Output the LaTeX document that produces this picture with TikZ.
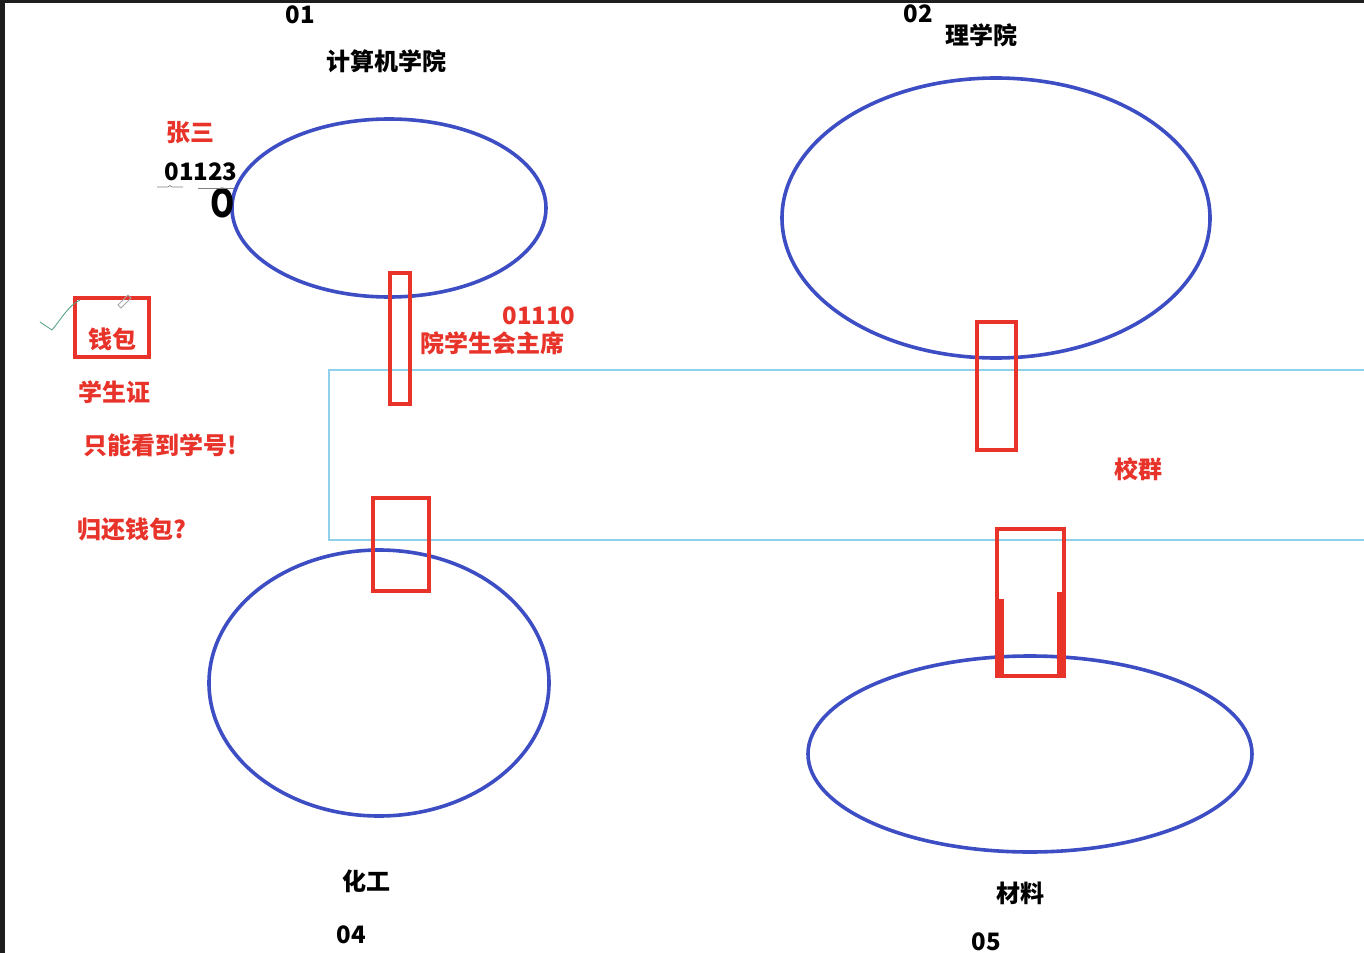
\documentclass[tikz,border=0pt]{standalone}
\usepackage{fontspec}
\setmainfont{Noto Sans CJK SC}
\newfontfamily\plainfont{Noto Sans CJK SC}
\definecolor{ellblue}{HTML}{3D4DC4}
\definecolor{mred}{HTML}{E8332A}
\definecolor{lblue}{HTML}{8FD0EA}
\definecolor{frame}{HTML}{1E1E1E}
\definecolor{chk}{HTML}{4A9E7A}
\tikzset{
  college/.style={draw=ellblue, line width=2.7pt},
  redbox/.style={draw=mred, line width=2.8pt},
  lbl/.style={inner sep=0pt, font=\bfseries\fontsize{18pt}{20pt}\selectfont, text=black},
  rlbl/.style={lbl, text=mred},
}
\begin{document}
\begin{tikzpicture}[x=0.75pt,y=-0.75pt]
\useasboundingbox (0,0) rectangle (1364,953);
\fill[white] (0,0) rectangle (1364,953);
\fill[frame] (0,0) rectangle (5,953);
\fill[frame] (0,0) rectangle (1364,3);

% school group rectangle
\draw[lblue, line width=1.1pt] (1366,370) -- (329,370) -- (329,540) -- (1366,540);

% colleges
\draw[college] (389,208) ellipse [x radius=157, y radius=89];
\draw[college] (996,218) ellipse [x radius=214, y radius=140];
\draw[college] (379,683) ellipse [x radius=170, y radius=133];
\draw[college] (1030,754) ellipse [x radius=222, y radius=98];

% red boxes
\draw[redbox] (390,273) rectangle (410,404);
\draw[redbox] (977,322) rectangle (1016,450);
\draw[redbox] (373,498) rectangle (429,591);
\draw[redbox] (997,529) rectangle (1064,676);
\draw[mred, line width=4.5pt] (1001,599) -- (1001,676);
\draw[mred, line width=4.5pt] (1060,592) -- (1060,676);
\draw[redbox] (75,298) rectangle (149,357);

% labels
\node[lbl] (n01) at (300,15) {01};
\node[lbl] (jsj) at (386,61) {计算机学院};
\node[lbl] (n02) at (918,14) {02};
\node[lbl] (lxy) at (981,35) {理学院};
\node[rlbl] (zs) at (190,133) {张三};
\node[lbl] (id) at (201,172) {01123};
\node[inner sep=0pt, xscale=0.8, font=\plainfont\bfseries\fontsize{29pt}{31pt}\selectfont] (oo) at (223,203) {O};
\node[rlbl] (id2) at (539,316) {01110};
\node[rlbl] (zx) at (492,343) {院学生会主席};
\node[rlbl] (qb) at (112,339) {钱包};
\node[rlbl] (xsz) at (114,392) {学生证};
\node[rlbl] (znk) at (160,445) {只能看到学号!};
\node[rlbl] (gh) at (132,529) {归还钱包?};
\node[rlbl] (xq) at (1138,469) {校群};
\node[lbl] (hg) at (366,881) {化工};
\node[lbl] (n04) at (351,935) {04};
\node[lbl] (cl) at (1020,893) {材料};
\node[lbl] (n05) at (986,942) {05};

% underline strokes under the number
\draw[gray, line width=0.5pt] (157,187) -- (168,187) .. controls (170,185) .. (172,187) -- (183,187);
\draw[gray, line width=0.5pt] (198,188) -- (234,188);

% small tick and pen
\draw[chk, line width=0.6pt, line cap=round] (40,322) .. controls (46,326) .. (52,330) .. controls (62,318) and (68,306) .. (80,300);
\draw[gray!70, line width=0.6pt] (118,305) -- (128,295) -- (131,298) -- (121,308) -- cycle;
\end{tikzpicture}
\end{document}
